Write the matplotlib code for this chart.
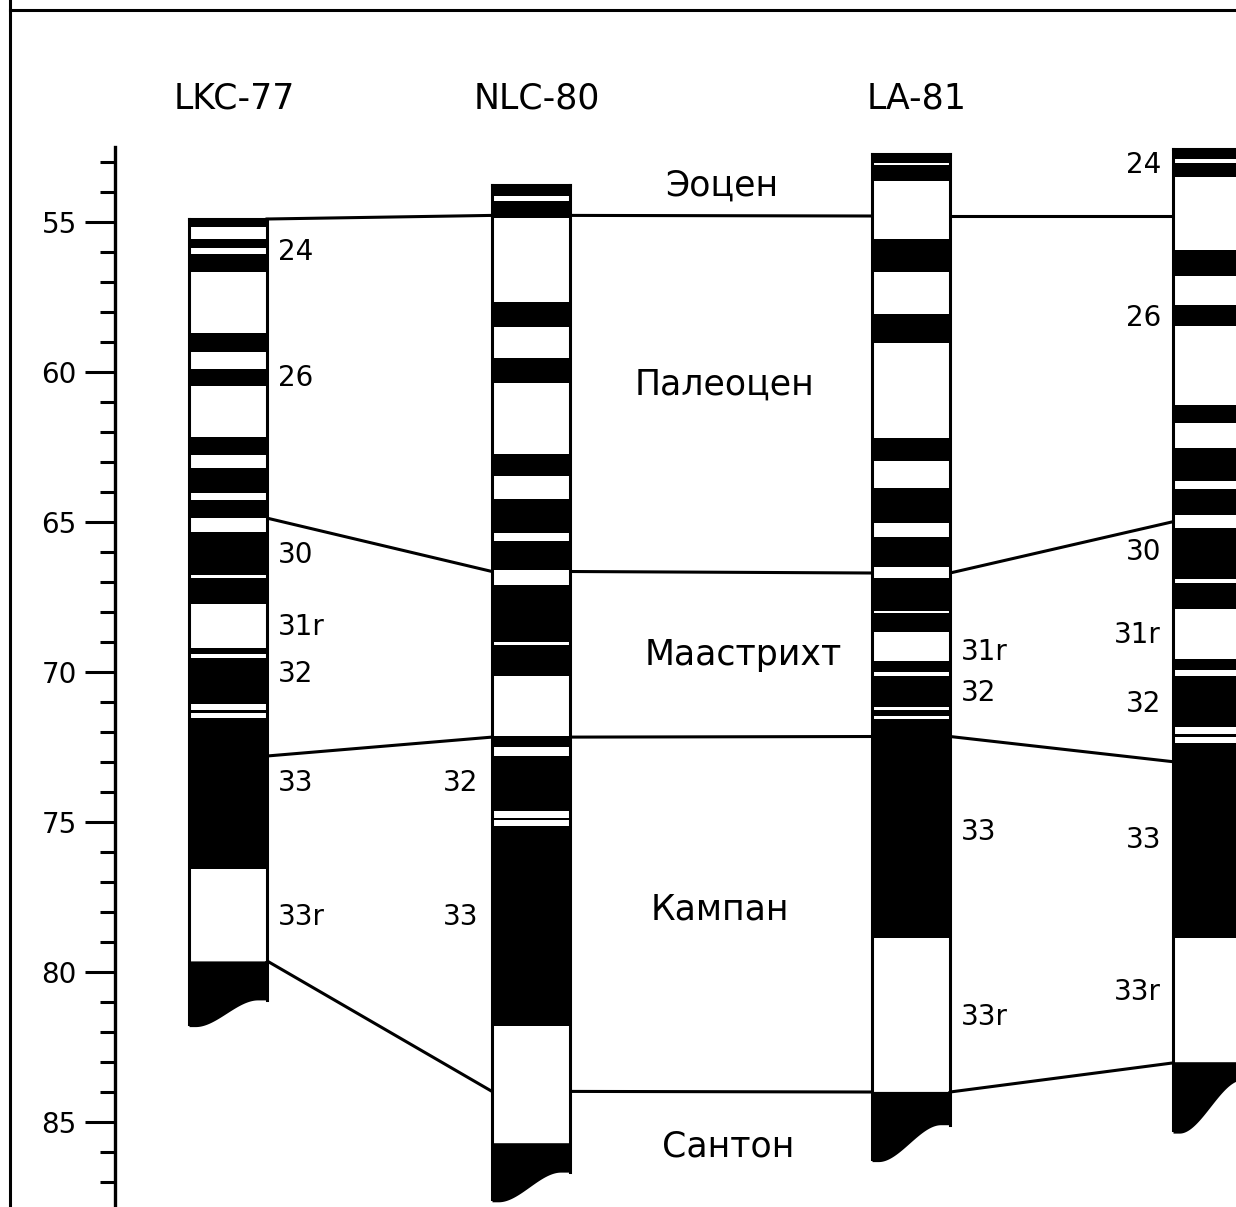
import numpy as np
import matplotlib.pyplot as plt

plt.rcParams['font.family'] = ['DejaVu Sans']

# ---- данные: возраст (млн лет) смены полярности, сверху всегда чёрная (прямая) ----
sections = ['LKC-77', 'NLC-80', 'LA-81', '']

lkc_top = 54.9
lkc_flips = [55.17, 55.57, 55.88, 56.07, 56.66, 58.71, 59.32, 59.91, 60.47, 62.16,
             62.77, 63.21, 64.04, 64.26, 64.88, 65.32, 66.77, 66.88, 67.73, 69.21,
             69.4, 69.54, 71.07, 71.27, 71.38, 71.54, 76.58, 79.63]
lkc_end = [81.82, 80.93]  # низ слева / справа

nlc_top = 53.77
nlc_flips = [54.13, 54.29, 54.88, 57.66, 58.49, 59.54, 60.38, 62.73, 63.47, 64.24,
             65.36, 65.62, 66.6, 67.1, 68.99, 69.1, 70.12, 72.13, 72.5, 72.79,
             74.62, 74.85, 74.94, 75.12, 81.8, 85.69]
nlc_end = [87.66, 86.67]

la_top = 52.73
la_flips = [53.02, 53.1, 53.62, 55.58, 56.66, 58.07, 59.02, 62.19, 62.96, 63.88,
            65.04, 65.51, 66.51, 66.86, 67.96, 68.04, 68.66, 69.63, 70.0, 70.12,
            71.15, 71.27, 71.47, 71.55, 78.87, 83.98]
la_end = [86.32, 85.09]

c4_top = 52.58
c4_flips = [52.91, 53.02, 53.49, 55.93, 56.8, 57.77, 58.47, 61.1, 61.71, 62.54,
            63.62, 63.91, 64.77, 65.21, 66.91, 67.02, 67.91, 69.58, 69.93, 70.13,
            71.82, 72.07, 72.18, 72.38, 78.88, 82.99]
c4_end = [85.37, 83.6]

tops = [lkc_top, nlc_top, la_top, c4_top]
flips = [lkc_flips, nlc_flips, la_flips, c4_flips]
ends = [lkc_end, nlc_end, la_end, c4_end]

# границы ярусов в каждом разрезе
eocene_base = [54.9, 54.78, 54.8, 54.8]
paleocene_base = [64.87, 66.65, 66.7, 64.99]
maastricht_base = [72.8, 72.17, 72.15, 72.99]
campan_base = [79.63, 83.98, 84.0, 83.03]

stages = ['Эоцен', 'Палеоцен', 'Маастрихт', 'Кампан', 'Сантон']
stage_age = [53.77, 60.43, 69.43, 77.93, 85.8]

# номера хронов
lkc_chrons = ['24', '26', '30', '31r', '32', '33', '33r']
lkc_chron_age = [56.0, 60.2, 66.1, 68.5, 70.05, 73.7, 78.15]
nlc_chrons = ['32', '33']
nlc_chron_age = [73.7, 78.17]
la_chrons = ['31r', '32', '33', '33r']
la_chron_age = [69.33, 70.7, 75.33, 81.5]
c4_chrons = ['24', '26', '30', '31r', '32', '33', '33r']
c4_chron_age = [53.1, 58.2, 66.0, 68.77, 71.05, 75.6, 80.65]

# ---- разметка ----
col_left = [189, 492, 872, 1173]
col_w = 78
stage_x = [722, 725, 743, 720, 728]
LW = 2.2

fig = plt.figure(figsize=(12.36, 12.07), dpi=100)
ax = fig.add_axes([0, 0, 1, 1])
ax.set_xlim(0, 1236)
ax.set_ylim(87.833, 47.6)

# колонки
for i in range(4):
    x0 = col_left[i]
    edges = [tops[i]] + flips[i]
    for k in range(len(edges) - 1):
        color = 'black' if k % 2 == 0 else 'white'
        ax.bar(x0, edges[k + 1] - edges[k], bottom=edges[k], width=col_w,
               align='edge', color=color, edgecolor='none', zorder=2)
    # нижний край с изгибом
    xs = np.linspace(x0, x0 + col_w, 80)
    t = np.clip(((xs - x0) / col_w - 0.08) / 0.8, 0, 1)
    s = t * t * (3 - 2 * t)
    ys = ends[i][0] + (ends[i][1] - ends[i][0]) * s
    ax.fill_between(xs, edges[-1], ys, color='black', lw=0, zorder=2)
    ax.plot([x0, x0], [tops[i], ends[i][0] - 0.1], color='black', lw=LW, zorder=3)
    ax.plot([x0 + col_w, x0 + col_w], [tops[i], ends[i][1]], color='black', lw=LW, zorder=3)
    ax.plot([x0, x0 + col_w], [tops[i], tops[i]], color='black', lw=LW, zorder=3)
    if sections[i]:
        ax.text(x0 + col_w / 2 + 6, 50.87, sections[i], ha='center', va='center',
                fontsize=25)

# корреляционные линии
for bound in [eocene_base, paleocene_base, maastricht_base, campan_base]:
    for i in range(3):
        ax.plot([col_left[i] + col_w, col_left[i + 1]], [bound[i], bound[i + 1]],
                color='black', lw=LW, zorder=1)

# подписи ярусов
for name, x, age in zip(stages, stage_x, stage_age):
    ax.text(x, age, name, ha='center', va='center', fontsize=25)

# подписи хронов
for lab, age in zip(lkc_chrons, lkc_chron_age):
    ax.text(col_left[0] + col_w + 11, age, lab, ha='left', va='center', fontsize=20)
for lab, age in zip(nlc_chrons, nlc_chron_age):
    ax.text(col_left[1] - 14, age, lab, ha='right', va='center', fontsize=20)
for lab, age in zip(la_chrons, la_chron_age):
    ax.text(col_left[2] + col_w + 11, age, lab, ha='left', va='center', fontsize=20)
for lab, age in zip(c4_chrons, c4_chron_age):
    ax.text(col_left[3] - 12, age, lab, ha='right', va='center', fontsize=20)

# шкала возраста
for side in ['top', 'right', 'bottom']:
    ax.spines[side].set_visible(False)
ax.spines['left'].set_position(('data', 115))
ax.spines['left'].set_bounds(52.5, 87.833)
ax.spines['left'].set_linewidth(2.4)
ax.set_xticks([])
ax.set_yticks(np.arange(55, 86, 5))
ax.set_yticks(np.arange(53, 88, 1), minor=True)
ax.tick_params(axis='y', which='major', direction='out', length=21.6, width=2.2,
               labelsize=20, pad=6)
ax.tick_params(axis='y', which='minor', direction='out', length=10.8, width=2.2)

# рамка
ax.plot([10, 10], [47.6, 87.833], color='black', lw=LW, clip_on=False)
ax.plot([10, 1236], [47.93, 47.93], color='black', lw=LW, clip_on=False)

fig.savefig('out.png', dpi=100)
